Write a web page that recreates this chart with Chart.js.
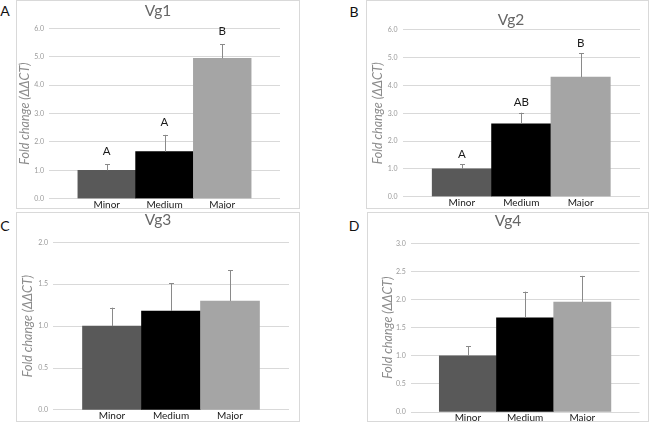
<!DOCTYPE html>
<html>
<head>
<meta charset="utf-8">
<script src="https://cdn.jsdelivr.net/npm/chart.js@4/dist/chart.umd.min.js"></script>
<style>
  html, body { margin: 0; padding: 0; background: #fff; }
  body { width: 650px; height: 422px; position: relative; overflow: hidden; font-family: Lato, "Open Sans", sans-serif; }
  .box { position: absolute; border: 1px solid #d9d9d9; box-sizing: border-box; }
  .box canvas { position: absolute; left: -1px; top: -1px; }
  .letter { position: absolute; font-size: 14px; color: #111; transform: translate(-50%, -50%); }
</style>
</head>
<body>
<div class="letter" style="left:5px;top:10px">A</div>
<div class="letter" style="left:354px;top:11px">B</div>
<div class="letter" style="left:5px;top:225px">C</div>
<div class="letter" style="left:354px;top:225px">D</div>

<div class="box" style="left:16px;top:0px;width:284px;height:209px"><canvas id="cA" width="284" height="209"></canvas></div>
<div class="box" style="left:366px;top:0px;width:283px;height:209px"><canvas id="cB" width="283" height="209"></canvas></div>
<div class="box" style="left:16px;top:212px;width:284px;height:210px"><canvas id="cC" width="284" height="210"></canvas></div>
<div class="box" style="left:367px;top:212px;width:282px;height:210px"><canvas id="cD" width="282" height="210"></canvas></div>

<script>
// ---------- data ----------
const categories = ['Minor', 'Medium', 'Major'];
const barColors = ['#595959', '#000000', '#a5a5a5'];
const yAxisTitle = 'Fold change (ΔΔCT)';

const vg1Values = [1.0, 1.66, 4.95];
const vg1Errors = [0.21, 0.59, 0.50];
const vg1Letters = ['A', 'A', 'B'];

const vg2Values = [1.0, 2.62, 4.30];
const vg2Errors = [0.17, 0.40, 0.86];
const vg2Letters = ['A', 'AB', 'B'];

const vg3Values = [1.0, 1.18, 1.30];
const vg3Errors = [0.22, 0.33, 0.365];
const vg3Letters = ['', '', ''];

const vg4Values = [1.0, 1.675, 1.955];
const vg4Errors = [0.17, 0.465, 0.465];
const vg4Letters = ['', '', ''];

const vg1Ticks = [0, 6, 1];   // min, max, step
const vg2Ticks = [0, 6, 1];
const vg3Ticks = [0, 2, 0.5];
const vg4Ticks = [0, 3, 0.5];

// ---------- plugin: error bars, significance letters, title ----------
const extrasPlugin = {
  id: 'extras',
  afterDatasetsDraw(chart) {
    const o = chart.options.plugins.extras;
    const ctx = chart.ctx;
    const meta = chart.getDatasetMeta(0);
    const yScale = chart.scales.y;
    ctx.save();
    meta.data.forEach((el, i) => {
      const v = o.values[i], e = o.errors[i];
      const yTop = yScale.getPixelForValue(v + e);
      const yBase = yScale.getPixelForValue(v);
      const xc = Math.round(el.x) + 0.5;
      ctx.strokeStyle = '#8a8a8a';
      ctx.lineWidth = 1;
      ctx.beginPath();
      ctx.moveTo(xc, yBase);
      ctx.lineTo(xc, yTop);
      ctx.moveTo(xc - 2.5, Math.round(yTop) + 0.5);
      ctx.lineTo(xc + 2.5, Math.round(yTop) + 0.5);
      ctx.stroke();
      const lab = o.letters[i];
      if (lab) {
        ctx.fillStyle = '#1a1a1a';
        ctx.font = '11.5px Lato, "Open Sans", sans-serif';
        ctx.textAlign = 'center';
        ctx.textBaseline = 'middle';
        ctx.fillText(lab, el.x, yTop - o.letterGap);
      }
    });
    ctx.restore();
  },
  afterDraw(chart) {
    const o = chart.options.plugins.extras;
    const ctx = chart.ctx;
    ctx.save();
    ctx.fillStyle = '#666666';
    ctx.font = '15.5px Lato, "Open Sans", sans-serif';
    ctx.textAlign = 'center';
    ctx.textBaseline = 'middle';
    ctx.fillText(o.title, o.titleX, o.titleY);
    ctx.restore();
  }
};

function makePanel(id, title, values, errors, letters, ticks, layout) {
  const [ymin, ymax, ystep] = ticks;
  return new Chart(document.getElementById(id), {
    type: 'bar',
    data: {
      datasets: [{
        data: categories.map((c, i) => ({ x: i, y: values[i] })),
        backgroundColor: barColors,
        borderWidth: 0,
        barPercentage: 1,
        categoryPercentage: 1
      }]
    },
    plugins: [extrasPlugin],
    options: {
      responsive: false,
      animation: false,
      devicePixelRatio: 1,
      layout: { padding: { left: 0, right: layout.padR, top: layout.padT, bottom: layout.padB } },
      plugins: {
        legend: { display: false },
        tooltip: { enabled: false },
        title: { display: false },
        extras: {
          title: title, titleX: layout.titleX, titleY: layout.titleY,
          values: values, errors: errors, letters: letters, letterGap: layout.letterGap
        }
      },
      scales: {
        x: {
          type: 'linear',
          offset: false,
          min: -1,
          max: 3,
          grid: { display: false, drawTicks: false },
          border: { display: false },
          ticks: {
            stepSize: 1,
            autoSkip: false,
            maxRotation: 0,
            padding: 0,
            color: '#1a1a1a',
            font: { family: 'Lato, "Open Sans", sans-serif', size: 10 },
            callback: (v) => (categories[v] !== undefined ? categories[v] : '')
          },
          afterFit: (s) => { s.height = layout.xH; s.paddingLeft = 0; s.paddingRight = 0; }
        },
        y: {
          min: ymin,
          max: ymax,
          grid: { color: '#d9d9d9', lineWidth: 1, drawTicks: false },
          border: { display: false },
          ticks: {
            stepSize: ystep,
            padding: 5,
            color: '#9a9a9a',
            font: { family: 'Lato, "Open Sans", sans-serif', size: 7 },
            callback: (v) => Number(v).toFixed(1)
          },
          title: {
            display: true,
            text: yAxisTitle,
            color: '#8c8c8c',
            padding: { top: layout.yTitlePad, bottom: 0 },
            font: { family: 'Lato, "Open Sans", sans-serif', size: 12.5, style: 'italic' }
          },
          afterFit: (s) => { s.width = layout.yW; s.paddingTop = 0; s.paddingBottom = 0; }
        }
      }
    }
  });
}

makePanel('cA', 'Vg1', vg1Values, vg1Errors, vg1Letters, vg1Ticks,
  { yW: 33, padR: 20, padT: 28.5, padB: 0.3, xH: 10, yTitlePad: 1.5, titleX: 142, titleY: 11, letterGap: 13 });
makePanel('cB', 'Vg2', vg2Values, vg2Errors, vg2Letters, vg2Ticks,
  { yW: 36.5, padR: 9, padT: 29.9, padB: 2.3, xH: 10, yTitlePad: 4.5, titleX: 145, titleY: 20, letterGap: 10 });
makePanel('cC', 'Vg3', vg3Values, vg3Errors, vg3Letters, vg3Ticks,
  { yW: 37, padR: 11, padT: 30.3, padB: 2.1, xH: 10, yTitlePad: 4.5, titleX: 142, titleY: 8, letterGap: 10 });
makePanel('cD', 'Vg4', vg4Values, vg4Errors, vg4Letters, vg4Ticks,
  { yW: 43.7, padR: 9.5, padT: 31.3, padB: 1, xH: 9, yTitlePad: 13.5, titleX: 141, titleY: 9, letterGap: 10 });
</script>
</body>
</html>
